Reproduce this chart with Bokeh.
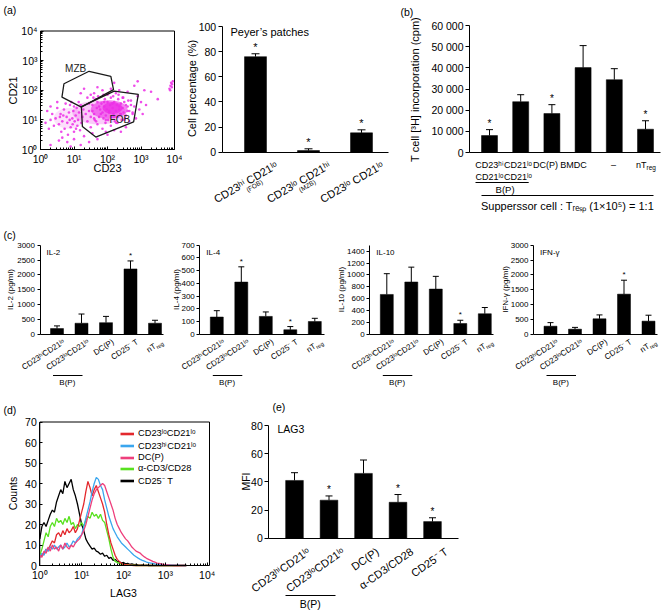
import math
import numpy as np
from bokeh.plotting import figure
from bokeh.models import (Range1d, FixedTicker, LabelSet, Label, ColumnDataSource,
                          Legend, LegendItem)
from bokeh.core.properties import value
from bokeh.layouts import row, column
from bokeh.embed import file_html
from bokeh.resources import INLINE

S = 1.0
FONT = "Liberation Sans"
MAG = "#ec2ee6"


def fs(v):
    return f"{v * S:.2f}px"

# ======================= DATA =======================
# (a) left: dot plot, log10 CD23 / log10 CD21
dot_cd23 = [0.45, 0.55, 0.6, 0.65, 0.7, 0.72, 0.78, 0.8, 0.85, 0.88, 0.9, 0.95, 0.98, 1.0, 1.02, 1.05,
            1.08, 1.1, 1.12, 1.15, 1.18, 1.2, 1.22, 1.25, 1.28, 0.35, 0.4, 0.5, 0.62, 0.75, 0.82, 0.92,
            1.0, 0.3, 0.25, 0.2, 0.58, 0.68, 0.87, 0.96, 1.06, 1.14,
            0.3, 0.55, 0.8, 1.0, 1.3, 1.45, 1.7, 2.0, 1.2, 0.9, 2.4, 1.55, 0.65,
            1.35, 1.4, 1.45, 1.5, 1.55, 1.6, 1.65, 1.7, 1.75, 1.8, 1.85, 1.9, 1.95, 2.0, 2.05, 2.1,
            2.15, 2.2, 2.25, 2.3, 2.35, 2.4, 2.45, 2.5, 2.55, 2.6, 2.65, 2.7, 2.75, 2.8, 2.85, 2.9,
            2.95, 3.0, 1.6, 1.85, 2.1, 2.35, 2.6, 1.4, 1.5, 3.05, 3.15, 2.55, 2.2, 1.95,
            1.2, 1.3, 1.7, 2.2, 2.8, 2.9, 3.1, 3.3, 3.5,
            3.85, 3.88, 3.9, 3.92, 3.95, 3.87, 3.93,
            0.5, 0.3, 0.15,
            1.45, 1.5, 1.55, 1.6, 1.62, 1.68, 1.7, 1.75, 1.78, 1.82,
            1.85, 1.88, 1.9, 1.92, 1.95, 1.98, 2.0, 2.02, 2.05, 2.08,
            2.1, 2.12, 2.15, 2.18, 2.2, 2.22, 2.25, 2.28, 2.3, 2.32,
            2.35, 2.38, 2.4, 2.42, 2.45, 2.48, 2.5, 2.55, 2.6, 2.65,
            2.7, 2.75, 1.58, 1.72, 1.88, 2.03, 2.17, 2.33, 2.47, 2.62,
            1.66, 1.94, 2.26, 2.52]
dot_cd21 = [1.05, 0.85, 1.2, 0.95, 1.35, 0.7, 1.1, 0.9, 1.25, 1.5, 0.75, 1.05, 1.3, 0.6, 0.95, 1.15,
            1.4, 0.8, 1.0, 1.25, 0.65, 1.5, 0.9, 1.1, 1.35, 1.2, 0.8, 1.4, 0.6, 1.55, 0.5, 1.6,
            1.45, 1.0, 0.7, 1.3, 1.1, 1.15, 1.0, 0.85, 0.7, 1.6,
            0.15, 0.3, 0.25, 0.35, 0.45, 0.25, 0.35, 0.5, 0.15, 0.1, 0.6, 0.55, 0.4,
            1.2, 0.95, 1.55, 0.75, 1.3, 1.05, 1.7, 0.85, 1.45, 1.2, 0.7, 1.6, 1.0, 1.85, 1.3, 0.8,
            1.55, 1.1, 1.9, 0.9, 1.45, 1.2, 1.75, 1.0, 1.5, 1.3, 0.95, 1.65, 1.2, 1.45, 1.05, 1.8,
            1.35, 1.6, 1.9, 2.0, 2.05, 2.0, 1.95, 1.75, 1.85, 1.2, 1.5, 0.75, 0.65, 0.6,
            1.9, 2.05, 2.1, 2.25, 2.15, 2.3, 2.0, 1.95, 1.7,
            2.05, 2.15, 2.25, 2.1, 2.3, 2.0, 2.2,
            1.6, 1.45, 0.9,
            1.3, 1.1, 1.5, 1.2, 1.0, 1.4, 1.6, 1.1, 1.35, 1.55,
            1.25, 1.05, 1.45, 1.7, 1.15, 1.35, 1.6, 1.0, 1.25, 1.5,
            1.75, 1.1, 1.4, 1.2, 1.6, 0.95, 1.3, 1.5, 1.1, 1.7,
            1.35, 1.2, 1.55, 1.0, 1.4, 1.25, 1.6, 1.15, 1.45, 1.3,
            1.5, 1.25, 1.75, 1.8, 1.85, 1.9, 1.8, 1.85, 1.75, 1.65,
            0.95, 0.9, 0.9, 1.05]
dense_cd23 = [1.75, 0.85, 2.05, 2.15]
dense_cd21 = [1.25, 1.05, 1.35, 1.4]
dense_w = [1.6, 0.9, 1.1, 0.6]
dense_h = [0.8, 0.7, 0.62, 0.4]
dense_alpha = [0.25, 0.15, 0.6, 0.75]
mzb_gate_x = [0.64, 0.70, 1.45, 2.10, 2.18, 1.22]
mzb_gate_y = [1.77, 2.22, 2.64, 2.47, 2.02, 1.43]
fob_gate_x = [1.22, 2.20, 2.92, 2.78, 1.65, 1.25]
fob_gate_y = [1.45, 1.97, 1.86, 0.93, 0.42, 0.78]
gate_names = ["MZB", "FOB"]
gate_label_x = [1.05, 2.37]
gate_label_y = [2.73, 1.0]
decade_ticks = [0, 1, 2, 3, 4]
decade_labels = ["10⁰", "10¹", "10²", "10³", "10⁴"]

# (a) right: Peyer's patches
pp_labels = ["CD23ʰⁱ CD21ˡᵒ", "CD23ˡᵒ CD21ʰⁱ", "CD23ˡᵒ CD21ˡᵒ"]
pp_sub = ["(FOB)", "(MZB)", ""]
pp_pct = [76, 1.3, 15.4]
pp_err = [2.3, 1.4, 2.4]
pp_star = [True, True, True]
pp_ticks = [0, 20, 40, 60, 80, 100]

# (b) suppression
b_line1 = ["CD23ʰⁱ", "CD21ˡᵒ", "DC(P)", "BMDC", "–", "nT"]
b_line2 = ["CD21ˡᵒ", "CD21ˡᵒ", "", "", "", ""]
b_sub = ["", "", "", "", "", "reg"]
b_cpm = [8000, 24000, 18400, 40100, 34400, 11000]
b_err = [2800, 3300, 4200, 10400, 5200, 4000]
b_star = [True, False, True, False, False, True]
b_ticks = [0, 10000, 20000, 30000, 40000, 50000, 60000]
b_tick_labels = ["0", "10 000", "20 000", "30 000", "40 000", "50 000", "60 000"]

# (c) cytokines
c_labels = ["CD23ʰⁱCD21ˡᵒ", "CD23ˡᵒCD21ˡᵒ", "DC(P)", "CD25⁻ T", "nT"]
c_sub = ["", "", "", "", "reg"]
c_names = ["IL-2", "IL-4", "IL-10", "IFN-γ"]
c_ylabels = ["IL-2 (pg/ml)", "IL-4 (pg/ml)", "IL-10 (pg/ml)", "IFN-γ (pg/ml)"]
il2 = [190, 370, 390, 2200, 370]
il2_err = [90, 310, 210, 270, 100]
il4 = [135, 410, 140, 35, 100]
il4_err = [50, 120, 35, 25, 25]
il10 = [670, 880, 760, 180, 345]
il10_err = [350, 250, 215, 55, 105]
ifng = [270, 170, 520, 1350, 440]
ifng_err = [120, 60, 130, 470, 200]
il2_star = [False, False, False, True, False]
il4_star = [False, True, False, True, False]
il10_star = [False, False, False, True, False]
ifng_star = [False, False, False, True, False]
il2_ticks = [0, 500, 1000, 1500, 2000, 2500, 3000]
il4_ticks = [0, 100, 200, 300, 400, 500, 600, 700]
il10_ticks = [0, 200, 400, 600, 800, 1000, 1200, 1400]
ifng_ticks = [0, 500, 1000, 1500, 2000, 2500, 3000]
c_ymax = [3000, 700, 1500, 3000]

# (d) LAG3 histograms (x = log10 LAG3)
lag3_log = [0.00, 0.05, 0.10, 0.15, 0.20, 0.25, 0.30, 0.35, 0.40, 0.45,
            0.50, 0.55, 0.60, 0.65, 0.70, 0.75, 0.80, 0.85, 0.90, 0.95,
            1.00, 1.05, 1.10, 1.15, 1.20, 1.25, 1.30, 1.35, 1.40, 1.45,
            1.50, 1.55, 1.60, 1.65, 1.70, 1.75, 1.80, 1.85, 1.90, 1.95,
            2.00, 2.05, 2.10, 2.15, 2.20, 2.25, 2.30, 2.35, 2.40, 2.45,
            2.50, 2.55, 2.60, 2.65, 2.70, 2.75, 2.80, 2.85, 2.90, 2.95,
            3.00, 3.05, 3.10, 3.15, 3.20, 3.25, 3.30, 3.35, 3.40, 3.45, 3.50]
hist_cd25 = [13, 19, 21, 19, 22, 25, 27, 26, 31, 34,
             37, 35, 41, 38, 40, 42, 37, 34, 30, 25,
             20, 17, 13, 11, 9.5, 8, 8.5, 7, 6.5, 5.5,
             6, 4.5, 5, 3.5, 4, 2.5, 3, 2, 1.8, 1.2,
             1.5, 0.8, 1, 0.6, 0.8, 0.4, 0.5, 0.3, 0.2, 0.3,
             0.1, 0.2, 0, 0.1, 0, 0, 0, 0, 0, 0,
             0, 0, 0, 0, 0, 0, 0, 0, 0, 0, 0]
hist_cd3 = [5, 8, 12, 16, 14, 19, 21, 19, 23, 21,
            22, 20, 23, 21, 24, 20, 21, 18, 20, 19,
            21, 19, 22, 24, 23, 26, 24, 25, 23, 25,
            22, 21, 17, 13, 8, 4, 2, 1.5, 1, 0.6,
            0.5, 0.3, 0.4, 0.2, 0.1, 0.2, 0, 0, 0, 0,
            0, 0, 0, 0, 0, 0, 0, 0, 0, 0,
            0, 0, 0, 0, 0, 0, 0, 0, 0, 0, 0]
hist_lolo = [4, 5, 6, 8, 7, 10, 12, 11, 15, 16,
             14, 17, 15, 18, 16, 17, 19, 16, 18, 22,
             26, 30, 36, 41, 38, 34, 37, 39, 36, 33,
             30, 26, 20, 15, 11, 8, 5, 3, 2, 1,
             0.6, 0.4, 0.3, 0.2, 0.1, 0, 0, 0, 0, 0,
             0, 0, 0, 0, 0, 0, 0, 0, 0, 0,
             0, 0, 0, 0, 0, 0, 0, 0, 0, 0, 0]
hist_hilo = [4, 6, 5, 8, 7, 9, 8, 10, 8, 9,
             10, 8, 9, 11, 9, 10, 12, 11, 13, 14,
             15, 19, 23, 27, 31, 36, 40, 43, 42, 39,
             37, 32, 28, 24, 21, 18, 16, 14, 12.5, 11,
             10, 9, 8, 7, 6, 5, 4.3, 3.6, 3, 2.5,
             2.1, 1.7, 1.4, 1.2, 1, 0.8, 0.7, 0.6, 0.5, 0.4,
             0.4, 0.3, 0.3, 0.2, 0.2, 0.1, 0.3, 0.1, 0, 0, 0]
hist_dcp = [5, 4, 7, 6, 9, 7, 10, 8, 9, 7,
            10, 8, 11, 9, 8, 10, 9, 11, 12, 13,
            15, 17, 20, 24, 28, 32, 35, 37, 38, 39,
            40, 39, 36, 33, 30, 27, 23, 20, 18, 16,
            14.5, 13, 12, 10.5, 9, 8, 7, 6.5, 6, 5,
            4.2, 3.5, 3, 2.5, 2, 1.6, 1.2, 1, 0.8, 0.6,
            0.4, 0.3, 0.2, 0.1, 0, 0, 0, 0, 0, 0, 0]
hist_names = ["CD23ˡᵒCD21ˡᵒ", "CD23ʰⁱCD21ˡᵒ", "DC(P)", "α-CD3/CD28", "CD25⁻ T"]
hist_colors = ["#e3282d", "#3aa6ee", "#ee3f7c", "#58e11f", "#000000"]
counts_ticks = [0, 10, 20, 30, 40, 50, 60, 70]

# (e) LAG3 MFI
e_labels = ["CD23ʰⁱCD21ˡᵒ", "CD23ˡᵒCD21ˡᵒ", "DC(P)", "α-CD3/CD28", "CD25⁻ T"]
e_mfi = [41, 27, 46, 25.5, 11.8]
e_err = [5.5, 3, 9.5, 5.5, 2.7]
e_star = [False, True, False, True, True]
e_ticks = [0, 20, 40, 60, 80]


# ======================= HELPERS =======================
def ipx(v):
    return int(round(v * S))


class Panel:
    """Canvas box (px) and inner plot box (px) <-> data limits; the frame fills the canvas."""

    def __init__(self, box, frame, xa, xb, ya, yb):
        cx0, cy0, cx1, cy1 = box
        self.fl, self.ft, self.fr, self.fb = frame
        self.xa, self.xb, self.ya, self.yb = xa, xb, ya, yb
        W = round(cx1 * S) - round(cx0 * S)
        H = round(cy1 * S) - round(cy0 * S)
        p = figure(width=W, height=H,
                   x_range=Range1d(self.X(cx0), self.X(cx1)),
                   y_range=Range1d(self.Y(cy1), self.Y(cy0)),
                   output_backend="svg", toolbar_location=None, tools="", title=None,
                   min_border=0, min_border_left=0, min_border_right=0,
                   min_border_top=0, min_border_bottom=0)
        p.grid.visible = False
        p.outline_line_color = None
        p.background_fill_color = "white"
        p.border_fill_color = "white"
        self.p = p
        for ax in (p.xaxis[0], p.yaxis[0]):
            ax.axis_line_color = "black"
            ax.axis_line_width = 1
            ax.major_tick_line_color = "black"
            ax.minor_tick_line_color = "black"
            ax.major_label_text_font = FONT
            ax.major_label_text_color = "black"
        p.xaxis[0].fixed_location = ya
        p.xaxis[0].bounds = (xa, xb)
        p.yaxis[0].fixed_location = xa
        p.yaxis[0].bounds = (ya, yb)

    def X(self, px):
        return self.xa + (px - self.fl) / (self.fr - self.fl) * (self.xb - self.xa)

    def Y(self, py):
        return self.ya + (self.fb - py) / (self.fb - self.ft) * (self.yb - self.ya)

    def PX(self, x):
        return self.fl + (x - self.xa) / (self.xb - self.xa) * (self.fr - self.fl)


def bar_panel(box, frame, first_px, spacing, ymax):
    fl, ft, fr, fb = frame
    xa = 1 - (first_px - fl) / spacing
    xb = xa + (fr - fl) / spacing
    pn = Panel(box, frame, xa, xb, 0, ymax)
    pn.spacing = spacing
    ax = pn.p.xaxis[0]
    ax.ticker = FixedTicker(ticks=[])
    ax.major_tick_line_color = None
    ax.minor_tick_line_color = None
    ax.major_label_text_font_size = "0px"
    return pn


def left_ticks(pn, ticks, size, tick_out=4, overrides=None):
    ax = pn.p.yaxis[0]
    ax.ticker = FixedTicker(ticks=ticks)
    ax.major_tick_in = 0
    ax.major_tick_out = ipx(tick_out)
    ax.minor_tick_line_color = None
    ax.major_label_standoff = ipx(2)
    ax.major_label_text_font_size = fs(size)
    if overrides:
        ax.major_label_overrides = overrides


def label(pn, text, px, py, size, align="left", baseline="top", angle_deg=0.0):
    pn.p.add_layout(Label(x=pn.X(px), y=pn.Y(py), text=text,
                          text_align=align, text_baseline=baseline,
                          angle=math.radians(angle_deg),
                          text_font=FONT, text_font_size=fs(size), text_color="black"))


def hseg(pn, px0, px1, py):
    pn.p.segment(x0=[pn.X(px0)], y0=[pn.Y(py)], x1=[pn.X(px1)], y1=[pn.Y(py)],
                 line_color="black", line_width=1)


def draw_bars(pn, vals, errs, stars, bar_px, cap_px, star_size):
    p = pn.p
    xs = list(range(1, len(vals) + 1))
    w = bar_px / pn.spacing
    cap = cap_px / 2 / pn.spacing
    tops = [v + e for v, e in zip(vals, errs)]
    p.vbar(x=xs, top=vals, bottom=0, width=w, fill_color="black", line_color="black", line_width=0.5)
    p.segment(x0=xs, y0=vals, x1=xs, y1=tops, line_color="black", line_width=1)
    p.segment(x0=[x - cap for x in xs], y0=tops, x1=[x + cap for x in xs], y1=tops,
              line_color="black", line_width=1)
    sx = [x for x, s in zip(xs, stars) if s]
    sy = [t for t, s in zip(tops, stars) if s]
    src = ColumnDataSource(dict(x=sx, y=sy, t=["*"] * len(sx)))
    p.add_layout(LabelSet(source=src, x="x", y="y", text="t", y_offset=1,
                          text_align="center", text_baseline="bottom",
                          text_font=value(FONT), text_font_size=fs(star_size), text_color="black"))
    return xs


def rot_label(pn, x, main, sub, ang, xoff, ydown, size, subsize=0):
    t = math.radians(ang)
    ax_px = pn.PX(x) + xoff
    ay_px = pn.fb + ydown
    if sub:
        d = 1.45 * subsize
        drop = 0.3 * size
        label(pn, sub, ax_px + drop * math.sin(t), ay_px + drop * math.cos(t), subsize,
              "right", "middle", ang)
        label(pn, main, ax_px - d * math.cos(t), ay_px + d * math.sin(t), size,
              "right", "middle", ang)
    else:
        label(pn, main, ax_px, ay_px, size, "right", "middle", ang)


def log_axes(pn, size, yticks=None, box_right=None):
    p = pn.p
    minor = [n + math.log10(k) for n in range(4) for k in range(2, 10)]
    for ax in (p.xaxis[0], p.yaxis[0]):
        ax.major_tick_in = ipx(3)
        ax.major_tick_out = 0
        ax.minor_tick_in = ipx(1.6)
        ax.minor_tick_out = 0
        ax.major_label_standoff = ipx(3)
        ax.major_label_text_font_size = fs(size)
    p.xaxis[0].ticker = FixedTicker(ticks=decade_ticks, minor_ticks=minor)
    p.xaxis[0].major_label_overrides = dict(zip(decade_ticks, decade_labels))
    if yticks is None:
        p.yaxis[0].ticker = FixedTicker(ticks=decade_ticks, minor_ticks=minor)
        p.yaxis[0].major_label_overrides = dict(zip(decade_ticks, decade_labels))
    else:
        p.yaxis[0].ticker = FixedTicker(ticks=yticks)
        p.yaxis[0].minor_tick_line_color = None
    p.quad(left=[pn.xa], right=[box_right if box_right is not None else pn.xb],
           bottom=[pn.ya], top=[pn.yb], fill_color=None, line_color="black", line_width=1)


# ======================= (a) dot plot =======================
A1 = Panel((0, 0, 182, 226), (40, 30.5, 174, 149), 0, 4, 0, 4)
log_axes(A1, 10.5)
A1.p.ellipse(x=dense_cd23, y=dense_cd21, width=dense_w, height=dense_h,
             fill_color=MAG, fill_alpha=dense_alpha, line_color=None)
A1.p.scatter(x=dot_cd23, y=dot_cd21, size=2.6, marker="circle",
             fill_color=MAG, line_color=None, fill_alpha=0.85)
A1.p.patch(x=mzb_gate_x, y=mzb_gate_y, fill_color=None, line_color="#1a1a1a", line_width=1.3)
A1.p.patch(x=fob_gate_x, y=fob_gate_y, fill_color=None, line_color="#1a1a1a", line_width=1.3)
A1.p.text(x=gate_label_x, y=gate_label_y, text=gate_names, text_font=value(FONT),
          text_font_size=value(fs(10)), text_align="center", text_baseline="middle",
          text_color="#222222")
label(A1, "(a)", 3, 3, 10.5)
label(A1, "CD21", 12, 90, 11, "center", "middle", 90)
label(A1, "CD23", 107, 167, 11, "center", "middle")

# ======================= (a) Peyer's patches =======================
A2 = bar_panel((182, 0, 398, 226), (221.7, 26, 388, 151.7), 255, 53, 100)
left_ticks(A2, pp_ticks, 10.5)
xs = draw_bars(A2, pp_pct, pp_err, pp_star, 22, 8, 11)
for x, t, s in zip(xs, pp_labels, pp_sub):
    rot_label(A2, x, t, "", 30, 21, 12, 11)
    if s:
        rot_label(A2, x, s, "", 30, 6.5, 29, 6.5)
label(A2, "Peyer’s patches", 230, 25, 11)
label(A2, "Cell percentage (%)", 191.5, 88, 11, "center", "middle", 90)

# ======================= (b) =======================
B = bar_panel((398, 0, 664, 226), (469, 25, 660, 152), 489, 31.2, 60000)
left_ticks(B, b_ticks, 10.5, overrides=dict(zip(b_ticks, b_tick_labels)))
xs = draw_bars(B, b_cpm, b_err, b_star, 16, 7, 10)
b_label_dx = [0, -2.7, -6.4, -9.6, -0.8, 1]
for x, t1, t2, sb, ddx in zip(xs, b_line1, b_line2, b_sub, b_label_dx):
    cx = B.PX(x) + ddx
    if sb:
        label(B, t1, cx, 164, 9, "right", "middle")
        label(B, sb, cx, 167, 6.5, "left", "middle")
    else:
        label(B, t1, cx, 164, 9, "center", "middle")
    if t2:
        label(B, t2, cx, 176, 9, "center", "middle")
hseg(B, B.PX(1) - 14, B.PX(2) + 8, 182)
label(B, "B(P)", B.PX(1.5), 189, 9.5, "center", "middle")
hseg(B, B.PX(1) - 8, B.PX(6) + 8, 195)
label(B, "Supperssor cell : Tᵣₑₛₚ (1×10⁵) = 1:1", B.PX(3.5), 205, 11, "center", "middle")
label(B, "(b)", 400, 5, 10.5)
label(B, "T cell [³H] incorporation (cpm)", 414, 89, 11, "center", "middle", 90)

# ======================= (c) =======================
c_boxes = [(0, 167), (167, 333), (333, 497), (497, 664)]
c_axis_x = [39.5, 199.3, 369.3, 533]
c_right = [163, 324, 493, 657]
c_ylab_dx = [29.5, 23.5, 28.5, 28]
c_vals = [il2, il4, il10, ifng]
c_errs = [il2_err, il4_err, il10_err, ifng_err]
c_stars = [il2_star, il4_star, il10_star, ifng_star]
c_tick_sets = [il2_ticks, il4_ticks, il10_ticks, ifng_ticks]
C_panels = []
for i in range(4):
    bx0, bx1 = c_boxes[i]
    fl = c_axis_x[i]
    pn = bar_panel((bx0, 226, bx1, 399), (fl, 244.7, c_right[i], 333.7), fl + 17, 24.5,
                   c_ymax[i])
    left_ticks(pn, c_tick_sets[i], 8, tick_out=3)
    xs = draw_bars(pn, c_vals[i], c_errs[i], c_stars[i], 13, 6, 8)
    for x, t, sb in zip(xs, c_labels, c_sub):
        rot_label(pn, x, t, sb, 33, 7, 7, 8, 5.5)
    hseg(pn, pn.PX(1) - 4, pn.PX(2) + 1, 375)
    label(pn, "B(P)", pn.PX(1.42), 382, 8, "center", "middle")
    label(pn, c_names[i], fl + 6.5, 247.7, 8)
    label(pn, c_ylabels[i], fl - c_ylab_dx[i], 289, 8, "center", "middle", 90)
    C_panels.append(pn)
label(C_panels[0], "(c)", 3, 228, 10.5)

# ======================= (d) =======================
D = Panel((0, 399, 232, 610), (39.3, 421.5, 206.7, 565), 0, 4, 0, 70)
log_axes(D, 10.5, counts_ticks, box_right=D.X(209))
series = [hist_lolo, hist_hilo, hist_dcp, hist_cd3, hist_cd25]
for k in [4, 3, 0, 1, 2]:
    D.p.line(x=lag3_log, y=series[k], line_color=hist_colors[k], line_width=1.3)
# legend keys: thicker stroke as in the reference key (no visible data of their own)
keys = [D.p.line(x=np.array([np.nan, np.nan]), y=np.array([np.nan, np.nan]),
                 line_color=hist_colors[k], line_width=2.6) for k in range(5)]
items = [LegendItem(label=hist_names[k], renderers=[keys[k]]) for k in range(5)]
leg = Legend(items=items, location=(120, 610 - 486.5), orientation="vertical",
             label_text_font=FONT, label_text_font_size=fs(9.3), label_text_color="black",
             glyph_width=14, glyph_height=11, label_height=11,
             label_standoff=4, spacing=0, padding=0, margin=0,
             border_line_color=None, background_fill_alpha=0)
D.p.add_layout(leg)
label(D, "(d)", 3, 403, 10.5)
label(D, "Counts", 12.5, 493, 10.5, "center", "middle", 90)
label(D, "LAG3", 123, 592, 10.5, "center", "middle")

# ======================= (e) =======================
E = bar_panel((232, 399, 664, 610), (268.3, 425, 458, 537.7), 294, 34.5, 80)
left_ticks(E, e_ticks, 10.5)
xs = draw_bars(E, e_mfi, e_err, e_star, 17.7, 7, 10)
for x, t in zip(xs, e_labels):
    rot_label(E, x, t, "", 35, 14, 12, 11)
hseg(E, 285, 335, 595)
label(E, "B(P)", E.PX(1.46), 603, 10.5, "center", "middle")
label(E, "LAG3", 277, 422, 10.5)
label(E, "(e)", 272, 400, 10.5)
label(E, "MFI", 245, 481, 10.5, "center", "middle", 90)

layout = column(
    row(A1.p, A2.p, B.p),
    row(*[pn.p for pn in C_panels]),
    row(D.p, E.p),
)

open("out.html", "w").write(file_html(layout, INLINE))
